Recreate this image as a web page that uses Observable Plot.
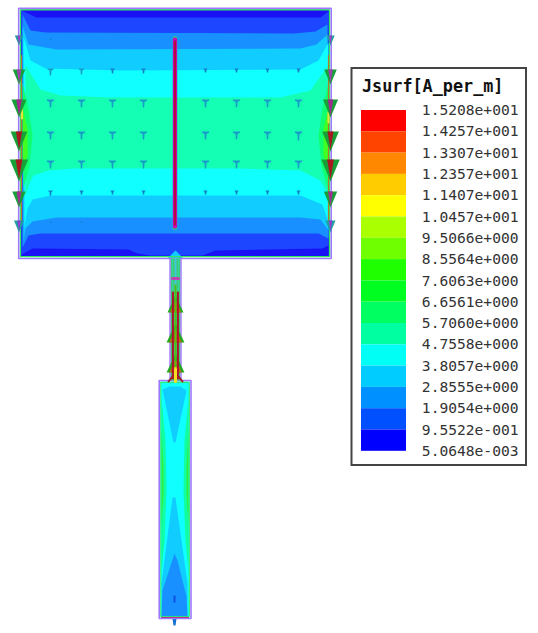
<!DOCTYPE html>
<html><head><meta charset="utf-8">
<script src="https://cdn.jsdelivr.net/npm/d3@7"></script>
<script src="https://cdn.jsdelivr.net/npm/@observablehq/plot@0.6"></script>
<style>html,body{margin:0;padding:0;background:#fff}svg{display:block}</style>
</head><body><div id="chart"></div>
<script>
const legendTicks = ["1.5208e+001","1.4257e+001","1.3307e+001","1.2357e+001","1.1407e+001","1.0457e+001","9.5066e+000","8.5564e+000","7.6063e+000","6.6561e+000","5.7060e+000","4.7558e+000","3.8057e+000","2.8555e+000","1.9054e+000","9.5522e-001","5.0648e-003"];
const legendColors = ["#ff0000","#ff4400","#ff8800","#ffcc00","#ffff00","#aaff00","#70ff00","#20ff00","#00ff20","#00ff60","#00ffa0","#00fff4","#00ccff","#0090ff","#0050ff","#0000ff"];

// nested contour outlines of the patch, outermost first
const patchBase = [[20,9],[329,9],[329,256],[20,256]];
const contour1 = [[21,10],[36,17],[320,17],[328,11],[328,245],[322,248],[215,250],[202,255],[150,255],[137,253],[128,249],[32,248],[21,254]];
const contour2 = [[22,14],[30,30],[45,32],[293,33],[315,31],[327,24],[328,238],[318,233],[40,233],[28,235],[22,247]];
const contour3 = [[22,25],[28,44],[56,49],[300,48],[316,44],[327,34],[328,230],[320,219],[300,217],[56,217],[32,221],[25,228],[23,241]];
const contour4 = [[23,36],[30,60],[45,68],[120,70],[300,69],[318,60],[328,42],[328,222],[322,204],[300,195],[50,195],[32,199],[27,208],[24,226]];
const contour5 = [[25,65],[40,89],[60,95],[110,97],[280,97],[310,90],[327,66],[328,195],[320,180],[300,170],[240,168],[72,168],[48,170],[33,175],[28,185],[25,196]];
const contour6Left = [[22,82],[28,108],[32,135],[29,165],[23,188]];
const contour7Left = [[22,108],[27,128],[27,155],[22,172]];
const contour6Right = [[328,82],[322,108],[318,135],[321,165],[327,188]];
const contour7Right = [[328,108],[323,128],[323,155],[328,172]];
const junctionBump = [[167,258],[172,253],[175,250],[178,253],[183,258]];

// bottom strip contours
const stripBase = [[160,381],[189,381],[189,617],[160,617]];
const stripTop = [[162,389],[169,386],[180,386],[186,390],[175,442],[173,442]];
const stripLow = [[172,497],[175,497],[187,583],[187,616],[161,616],[161,583]];
const stripLowest = [[174,553],[177,560],[186,596],[187,616],[161,616],[162,590]];
const stripDeep = [[173,595],[175,595],[175,602],[173,602]];
const stripSideL = [[161,398],[165,440],[166,490],[164,540],[161,570]];
const stripSideR = [[188,398],[184,440],[183,490],[185,540],[188,570]];
const stripSideL2 = [[161,430],[163,465],[163,495],[161,525]];
const stripSideR2 = [[188,430],[186,465],[186,495],[188,525]];
const stripTail = [[172,618],[176,618],[175,625],[173,625]];

// field arrows
const fieldX = [50,81,112,143,205,236,267,298];
const fieldRowY = [38,68,99,131,160,190,221];
const fieldLengths = [
  [1.5,0,0,0,0,0,0,0],
  [7,6,5,5,4,4,4,4],
  [8,8,8,8,8,8,8,8],
  [8,8,8,8,8,8,8,9],
  [8,8,8,8,8,8,8,8],
  [5,4,4,4,4,4,4,4],
  [1.5,1.5,0,0,0,0,0,0]
];
// wall arrows
const wallY = [35,69,99,131,159,191,220];
const wallLengths = [10,15,18,20,22,16,12];
const wallCores = ["#a040c8","#a040b0","#a02a90","#a81820","#a81820","#a03090","#9040d0"];
const feedBaseY = [312,342,372];
const feedLengths = [17,19,19];

const fieldRows = fieldRowY.flatMap((y,i)=>fieldX.map((x,j)=>({x,y,len:fieldLengths[i][j]}))).filter(d=>d.len>0);
const wallL = wallY.map((y,i)=>({x:18.5,y,len:wallLengths[i],core:wallCores[i]}));
const wallR = wallY.map((y,i)=>({x:330,y,len:wallLengths[i],core:wallCores[i]}));
const feedArrows = feedBaseY.map((y,i)=>({y,len:feedLengths[i]}));
const legendRows = legendTicks.map((t,i)=>({t,i}));
const bandY = i => 110 + i*21.3;

const fillPoly = (pts,fill)=>Plot.line(pts,{x:d=>d[0],y:d=>d[1],fill,stroke:"none"});
const strokeLine = (pts,stroke,w)=>Plot.line(pts,{x:d=>d[0],y:d=>d[1],stroke,strokeWidth:w,curve:"linear",strokeLinejoin:"miter"});
const wedge = {draw(c,l){const r=l*0.42;c.moveTo(-r,0);c.lineTo(r,0);c.lineTo(0,-l);c.closePath();}};
const wedgeCore = {draw(c,l){const r=l*0.17;c.moveTo(-r,0);c.lineTo(r,0);c.lineTo(0,-l);c.closePath();}};
const wedgeUp = {draw(c,l){const r=l*0.47;c.moveTo(-r,0);c.lineTo(r,0);c.lineTo(0,-l);c.closePath();}};
const tee = {draw(c,l){const r=Math.min(3.6,l*0.45),s=1,h=Math.max(1.5,l*0.3);c.moveTo(-r,0);c.lineTo(r,0);c.lineTo(r,h*0.5);c.lineTo(s,h);c.lineTo(s*0.7,l);c.lineTo(-s*0.7,l);c.lineTo(-s,h);c.lineTo(-r,h*0.5);c.closePath();}};
const wallArrow = (data,scale,shape,fillFn)=>Plot.vector(data,{x:"x",y:"y",length:d=>d.len*scale,rotate:180,anchor:"start",shape,fill:fillFn,stroke:"none"});
const feedArrow = (x,fill,scale)=>Plot.vector(feedArrows,{x:()=>x,y:"y",length:d=>d.len*scale,anchor:"start",shape:wedgeUp,fill,stroke:"none"});

const chart = Plot.plot({
  width:538,height:633,margin:0,
  x:{domain:[0,538],axis:null},y:{domain:[633,0],axis:null},
  color:{type:"identity"},length:{type:"identity"},
  style:{background:"#fff"},
  marks:[
    // patch surface
    fillPoly(patchBase,"#1a12f4"),
    fillPoly(contour1,"#1c46ff"),
    fillPoly(contour2,"#1890ff"),
    fillPoly(contour3,"#10ccff"),
    fillPoly(contour4,"#10ffff"),
    fillPoly(contour5,"#14ffb4"),
    fillPoly(contour6Left,"#10ff70"),fillPoly(contour6Right,"#10ff70"),
    fillPoly(contour7Left,"#40ff20"),fillPoly(contour7Right,"#40ff20"),
    fillPoly(junctionBump,"#10ccff"),
    // patch border
    strokeLine([[18.2,258],[18.2,7.7],[330.7,7.7],[330.7,258],[18.2,258]],"#a078ff",1.6),
    strokeLine([[20,256.2],[20,9.4],[329,9.4],[329,256.2],[20,256.2]],"#30e860",1.3),
    // wall hot stripes
    strokeLine([[21,55],[21,225]],"#b07a30",1.2),
    strokeLine([[328,55],[328,225]],"#b07a30",1.2),
    strokeLine([[21.5,108],[21.5,118]],"#e8e040",2),
    strokeLine([[328,112],[328,122]],"#e8e040",2),
    // centre slot
    strokeLine([[174.5,38],[174.5,227]],"#40c870",4.6),
    strokeLine([[174.5,39],[174.5,226]],"#c800b8",4.2),
    strokeLine([[174.5,41],[174.5,224]],"#b01030",1.8),
    // field arrows
    Plot.vector(fieldRows,{x:"x",y:"y",length:"len",anchor:"start",rotate:0,shape:tee,fill:d=>d.len>=6?"#189cc8":"#1480c8",stroke:"none"}),
    // wall arrows
    wallArrow(wallL,1,wedge,d=>d.len>13?"#18a038":"#20a0a0"),
    wallArrow(wallR,1,wedge,d=>d.len>13?"#18a038":"#20a0a0"),
    wallArrow(wallL,0.9,wedgeCore,d=>d.core),
    wallArrow(wallR,0.9,wedgeCore,d=>d.core),
    // bottom strip
    fillPoly(stripBase,"#10ffff"),
    fillPoly(stripTop,"#10ccff"),
    fillPoly(stripLow,"#10ccff"),
    fillPoly(stripLowest,"#1890ff"),
    fillPoly(stripDeep,"#1050e0"),
    fillPoly(stripSideL,"#10ffa0"),fillPoly(stripSideR,"#10ffa0"),
    fillPoly(stripSideL2,"#30f040"),fillPoly(stripSideR2,"#30f040"),
    fillPoly(stripTail,"#1070d0"),
    strokeLine([[158.7,380],[190.5,380],[190.5,618],[158.7,618],[158.7,380]],"#a078ff",1.6),
    strokeLine([[160.3,381.8],[188.8,381.8],[188.8,616.2],[160.3,616.2],[160.3,381.8]],"#30e860",1),
    strokeLine([[161,617],[188,617]],"#c03090",1.2),
    // feed line
    fillPoly([[170,258],[180,258],[180,380],[170,380]],"#40c870"),
    strokeLine([[169.5,258],[169.5,380]],"#a078ff",1.4),
    strokeLine([[180.5,258],[180.5,380]],"#a078ff",1.4),
    strokeLine([[172,258],[172,290]],"#30d8a0",1.4),
    strokeLine([[178,258],[178,290]],"#30d8a0",1.4),
    strokeLine([[175,258],[175,290]],"#40c8d8",2),
    feedArrow(175,"#20a820",1),
    feedArrow(175,"#b07010",0.72),
    strokeLine([[172.4,292],[172.4,378]],"#b01030",2),
    strokeLine([[177.4,292],[177.4,378]],"#b01030",2),
    strokeLine([[175,285],[175,372]],"#50c010",1.8),
    strokeLine([[175,368],[175,381]],"#f0e020",3),
    strokeLine([[168,381],[172,376]],"#a02020",2),
    strokeLine([[182,381],[178,376]],"#a02020",2),
    strokeLine([[172,278],[178,278]],"#c040b0",3),
    // legend
    Plot.rect([0],{x1:()=>351.5,x2:()=>526,y1:()=>68,y2:()=>465,fill:"#fff",stroke:"#444",strokeWidth:2}),
    Plot.rect(legendColors.map((c,i)=>({c,i})),{x1:()=>361,x2:()=>406,y1:d=>bandY(d.i),y2:d=>bandY(d.i+1),fill:"c"}),
    Plot.text(["Jsurf[A_per_m]"],{x:()=>361.5,y:()=>86.5,text:d=>d,textAnchor:"start",fontFamily:"'DejaVu Sans Mono',monospace",fontWeight:"bold",fontSize:16.8,fill:"#111"}),
    Plot.text(legendRows,{x:()=>518,y:d=>bandY(d.i),text:"t",textAnchor:"end",fontFamily:"'DejaVu Sans Mono',monospace",fontSize:14.6,fill:"#333"})
  ]
});
document.getElementById("chart").append(chart);
</script></body></html>
